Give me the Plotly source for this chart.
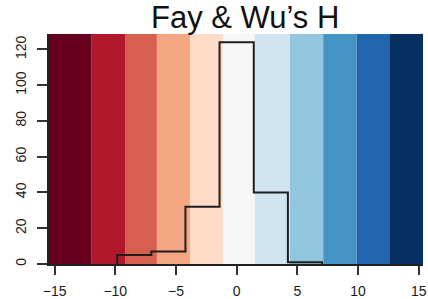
import plotly.graph_objects as go

# Data
bin_edges = [-9.84, -7.03, -4.22, -1.41, 1.41, 4.22, 7.03]
counts = [5, 7, 32, 124, 40, 1]

band_edges = [-15.46, -11.94, -9.2, -6.57, -3.85, -1.13, 1.5, 4.39, 7.13, 9.88, 12.63, 15.35]
band_colors = ["#67001f", "#b2182b", "#d6604d", "#f4a582", "#fddbc7", "#f7f7f7",
               "#d1e5f0", "#92c5de", "#4393c3", "#2166ac", "#053061"]

x_ticks = [-15, -10, -5, 0, 5, 10, 15]
y_ticks = [0, 20, 40, 60, 80, 100, 120]
title_text = "Fay & Wu\u2019s H"

fig = go.Figure()

# outline of histogram (stair-step)
step_x = [bin_edges[0]] + bin_edges
step_y = [0] + counts + [0]
fig.add_trace(go.Scatter(x=step_x, y=step_y, mode="lines", line_shape="hv",
                         line=dict(color="#1e1e1e", width=2), hoverinfo="skip",
                         showlegend=False))

shapes = []
for i, c in enumerate(band_colors):
    shapes.append(dict(type="rect", xref="x", yref="y domain",
                       x0=band_edges[i], x1=band_edges[i + 1], y0=0, y1=1,
                       fillcolor=c, line=dict(width=0), layer="below"))

font = "Liberation Sans, Arial, Helvetica, sans-serif"
fig.update_layout(
    width=428, height=299,
    margin=dict(l=49, r=5, t=34, b=35),
    paper_bgcolor="white", plot_bgcolor="white",
    shapes=shapes,
    font=dict(family=font, color="#1a1a1a"),
    annotations=[dict(text=title_text, xref="paper", yref="paper",
                      x=(245 - 49) / 374, y=1, xanchor="center", yanchor="bottom",
                      yshift=-3, showarrow=False,
                      font=dict(size=31, family=font, color="#111111"))],
)
fig.update_xaxes(range=[band_edges[0], band_edges[-1]], tickvals=x_ticks,
                 ticks="outside", ticklen=9, tickwidth=1.5, tickcolor="#333",
                 showline=True, linecolor="#222", linewidth=1.5, automargin=False,
                 showgrid=False, zeroline=False, ticklabelstandoff=4,
                 tickfont=dict(size=14, color="#1a1a1a"))
fig.update_yaxes(range=[0, 128.6], tickvals=y_ticks, tickangle=-90,
                 ticks="outside", ticklen=10, tickwidth=1.5, tickcolor="#333",
                 showline=True, linecolor="#222", linewidth=1.5, automargin=False,
                 showgrid=False, zeroline=False, ticklabelstandoff=6,
                 tickfont=dict(size=14, color="#1a1a1a"))

fig.write_html("out.html", config={"displayModeBar": False},
               post_script="document.body.style.margin='0';document.body.style.overflow='hidden';")
